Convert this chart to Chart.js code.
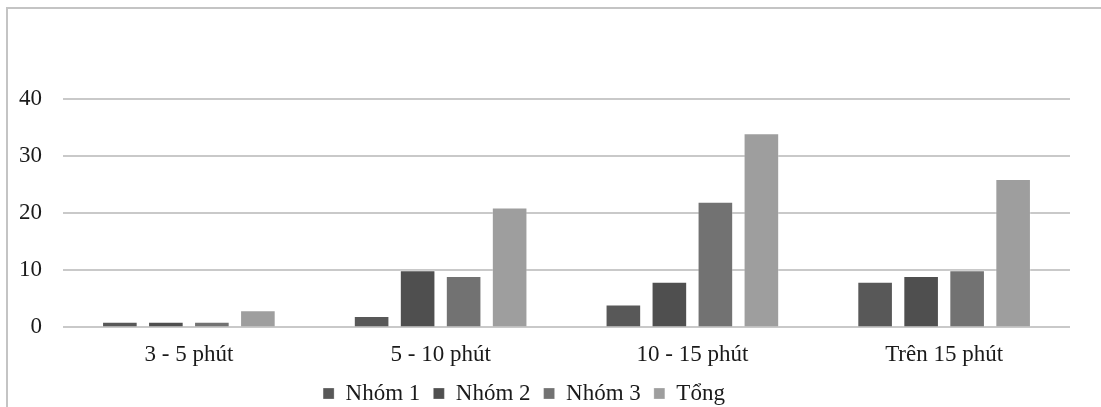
<!DOCTYPE html>
<html>
<head>
<meta charset="utf-8">
<script src="https://cdn.jsdelivr.net/npm/chart.js@4"></script>
<style>
  html, body { margin: 0; padding: 0; background: #fff; overflow: hidden; width: 1101px; height: 407px; }
  #frame { position: absolute; left: 6px; top: 7px; width: 1200px; height: 500px;
           border-top: 2px solid #c4c4c4; border-left: 2px solid #c4c4c4; }
  #c { position: absolute; left: 0; top: 0; }
</style>
</head>
<body>
<div id="frame"></div>
<canvas id="c" width="1101" height="421"></canvas>
<script>
const categories = ['3 - 5 phút', '5 - 10 phút', '10 - 15 phút', 'Trên 15 phút'];
const nhom1 = [1, 2, 4, 8];
const nhom2 = [1, 10, 8, 9];
const nhom3 = [1, 9, 22, 10];
const tong  = [3, 21, 34, 26];
const seriesNames = ['Nhóm 1', 'Nhóm 2', 'Nhóm 3', 'Tổng'];
const yTicks = [0, 10, 20, 30, 40];

const colors = ['#585858', '#4f4f4f', '#727272', '#9e9e9e'];
const FONT = "'Liberation Serif', 'Times New Roman', serif";

// pull the legend up closer to the axis labels and slightly left
const legendShift = {
  id: 'legendShift',
  afterLayout(chart) {
    const lg = chart.legend;
    if (lg) { lg.left -= 11; lg.right -= 11; lg.top -= 6; lg.bottom -= 6; }
  }
};

const ds = [nhom1, nhom2, nhom3, tong].map((d, i) => ({
  label: seriesNames[i],
  data: d,
  backgroundColor: colors[i],
  borderColor: 'rgba(255,255,255,0.25)',
  borderWidth: 1,
  barPercentage: 0.774,
  categoryPercentage: 0.731
}));

new Chart(document.getElementById('c'), {
  type: 'bar',
  data: { labels: categories, datasets: ds },
  plugins: [legendShift],
  options: {
    responsive: false,
    animation: false,
    layout: { padding: { top: 99, right: 31, left: 0, bottom: 0 } },
    plugins: {
      legend: {
        position: 'bottom',
        labels: {
          boxWidth: 11, boxHeight: 11, padding: 13,
          color: '#1a1a1a',
          font: { family: FONT, size: 23 }
        }
      },
      tooltip: { enabled: false }
    },
    scales: {
      x: {
        grid: { display: false },
        border: { display: false },
        ticks: { color: '#1a1a1a', padding: 6, font: { family: FONT, size: 23 }, maxRotation: 0 }
      },
      y: {
        min: 0, max: 40,
        afterFit(s) { s.width = 63; },
        afterBuildTicks(s) { s.ticks = yTicks.map(v => ({ value: v })); },
        grid: { color: '#c9c9c9', lineWidth: 2, drawTicks: false, tickLength: 0 },
        border: { display: false },
        ticks: { color: '#1a1a1a', padding: 21, font: { family: FONT, size: 23 } }
      }
    }
  }
});
</script>
</body>
</html>
